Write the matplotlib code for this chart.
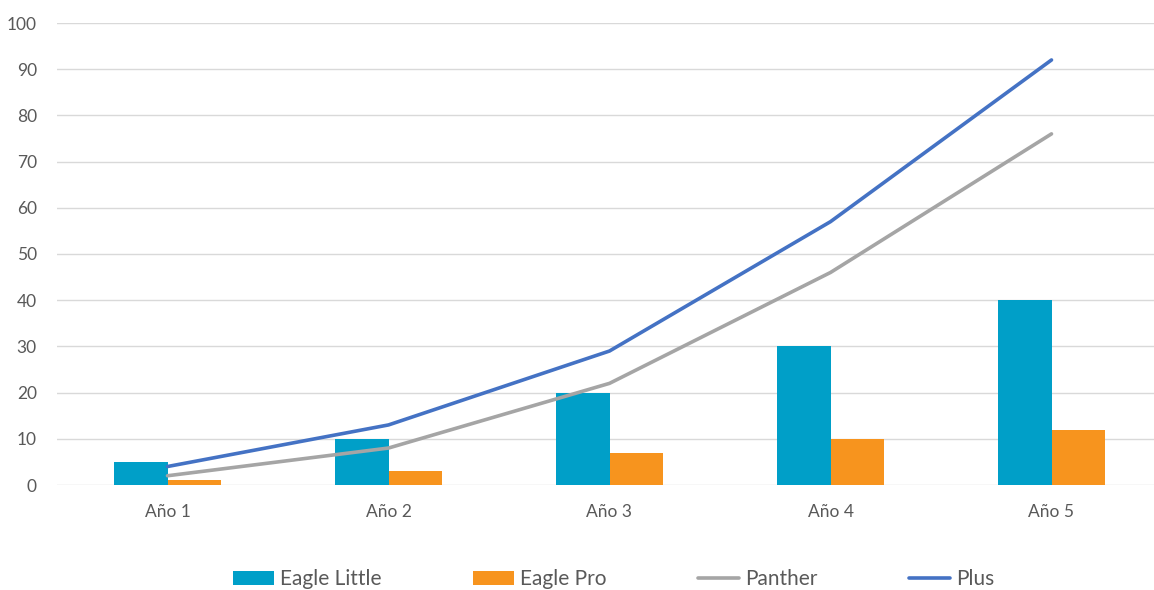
import matplotlib
matplotlib.use("Agg")
import matplotlib.pyplot as plt
import numpy as np

categories = ["Año 1", "Año 2", "Año 3", "Año 4", "Año 5"]
eagle_little = [5, 10, 20, 30, 40]
eagle_pro = [1, 3, 7, 10, 12]
panther = [2, 8, 22, 46, 76]
plus = [4, 13, 29, 57, 92]
y_ticks = [0, 10, 20, 30, 40, 50, 60, 70, 80, 90, 100]

plt.rcParams["font.family"] = ["Lato", "DejaVu Sans"]
text_color = "#595959"

fig = plt.figure(figsize=(11.54, 5.90), dpi=100)
W, H = 1154, 590
ax = fig.add_axes([57 / W, 105 / H, (1162 - 57) / W, (485 - 23) / H])

x = np.arange(len(categories))
bw = 0.244
b1 = ax.bar(x - bw / 2, eagle_little, width=bw, color="#009FC8", label="Eagle Little", zorder=2)
b2 = ax.bar(x + bw / 2, eagle_pro, width=bw, color="#F7941E", label="Eagle Pro", zorder=2)
l1, = ax.plot(x, panther, color="#A5A5A5", lw=2.6, label="Panther", zorder=3,
              solid_capstyle="round")
l2, = ax.plot(x, plus, color="#4472C4", lw=2.6, label="Plus", zorder=3,
              solid_capstyle="round")

ax.set_xlim(-0.5, len(categories) - 0.5)
ax.set_ylim(0, 100)
ax.set_yticks(y_ticks)
ax.set_xticks(x)
ax.set_xticklabels(categories)
ax.grid(axis="y", color="#D9D9D9", lw=1, zorder=0)
ax.set_axisbelow(True)
for s in ax.spines.values():
    s.set_visible(False)
ax.tick_params(axis="both", length=0, colors=text_color, labelsize=12.5)
ax.tick_params(axis="y", labelsize=12.5, pad=14.5)
ax.tick_params(axis="x", pad=14)

fig.legend(handles=[b1, b2, l1, l2], loc="center",
           bbox_to_anchor=(0.532, 1 - 579 / H), ncol=4,
           frameon=False, fontsize=15, labelcolor=text_color,
           handlelength=1.95, handleheight=0.65, handletextpad=0.3,
           columnspacing=4.4)

fig.savefig("out.png", dpi=100)
